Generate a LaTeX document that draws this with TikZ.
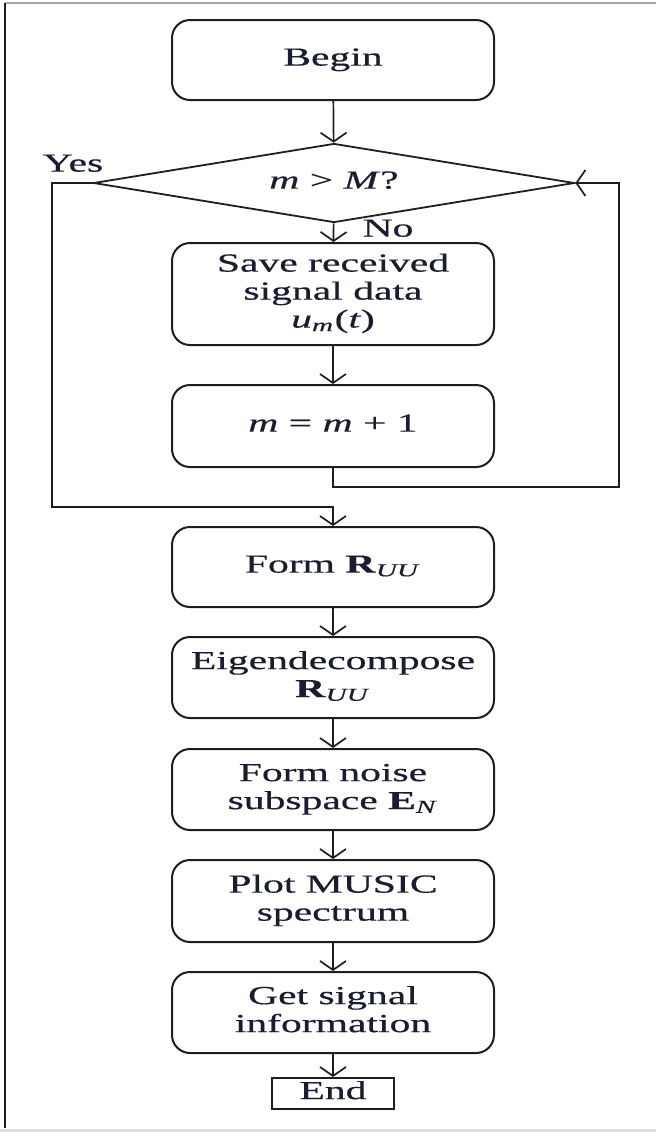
\documentclass[tikz,border=0pt]{standalone}
\usepackage{fontspec}
\setmainfont{Liberation Serif}[FakeBold=0.4]
\usepackage{graphicx}
\usepackage{xcolor}
\usetikzlibrary{shapes.geometric, arrows.meta}

\definecolor{inkline}{RGB}{30,30,30}
\definecolor{inktext}{RGB}{25,28,50}
% wide lettering of the scanned chart
\newcommand{\widetxt}[1]{\scalebox{1.6}[1]{\begin{tabular}{@{}c@{}}#1\end{tabular}}}

\begin{document}
\begin{tikzpicture}[
  x=0.5pt, y=-0.5pt,
  every node/.style={font=\fontsize{13}{14}\selectfont, text=inktext},
  proc/.style={rectangle, rounded corners=9pt, draw=inkline, line width=1pt,
               minimum width=161pt, minimum height=#1, inner sep=1pt},
  decide/.style={diamond, draw=inkline, line width=0.9pt, aspect=6,
                 minimum width=240.5pt, minimum height=39.5pt, inner sep=0pt},
  stopbox/.style={rectangle, draw=inkline, line width=1pt,
                  minimum width=61pt, minimum height=15.5pt, inner sep=0.5pt},
  arr/.style={-{Straight Barb[length=4.5pt, width=13pt]}, draw=inkline, line width=0.85pt},
]
\useasboundingbox (0,0) rectangle (656,1132);

% page frame
\draw[gray!70, line width=0.8pt] (5,3) -- (656,3);
\draw[inkline, line width=0.9pt] (5,3) -- (5,1128);
\draw[gray!25, line width=1.5pt] (0,1130) -- (656,1130);

% loop part
\node[proc=40pt] (begin) at (333,60) {\widetxt{Begin}};
\node[decide] (test) at (334,183) {\widetxt{\textit{m} > \textit{M}?}};
\node[proc=51pt] (save) at (333,294)
  {\widetxt{Save received\\signal data\\\textit{u}\textsubscript{\textit{m}}(\textit{t})}};
\node[proc=41pt] (incr) at (333,426) {\widetxt{\textit{m} = \textit{m} + 1}};

% processing chain
\node[proc=40pt] (formR) at (333,567) {\widetxt{Form \textbf{R}\textsubscript{\textit{UU}}}};
\node[proc=40.5pt] (eig) at (333,677.5) {\widetxt{Eigendecompose\\\textbf{R}\textsubscript{\textit{UU}}}};
\node[proc=40.5pt] (noise) at (333,789.5) {\widetxt{Form noise\\subspace \textbf{E}\textsubscript{\textit{N}}}};
\node[proc=41pt] (plot) at (333,901) {\widetxt{Plot MUSIC\\spectrum}};
\node[proc=40.5pt] (info) at (333,1012.5) {\widetxt{Get signal\\information}};
\node[stopbox] (stop) at (333,1093.5) {\widetxt{End}};

% branch labels
\node (yes) at (73,166) {\widetxt{Yes}};
\node (no) at (388,231) {\widetxt{No}};

% bends of the two loops
\coordinate (lbend) at (52,507);
\coordinate (rbend) at (619,487);

\draw[arr] (begin) -- (test);
\draw[arr] (test) -- (save);
\draw[arr] (save) -- (incr);
\draw[arr] (incr.south) |- (rbend) |- (test.east);
\draw[arr] (test.west) -| (lbend) -| (formR.north);
\draw[arr] (formR) -- (eig);
\draw[arr] (eig) -- (noise);
\draw[arr] (noise) -- (plot);
\draw[arr] (plot) -- (info);
\draw[arr] (info) -- (stop);
\end{tikzpicture}
\end{document}
